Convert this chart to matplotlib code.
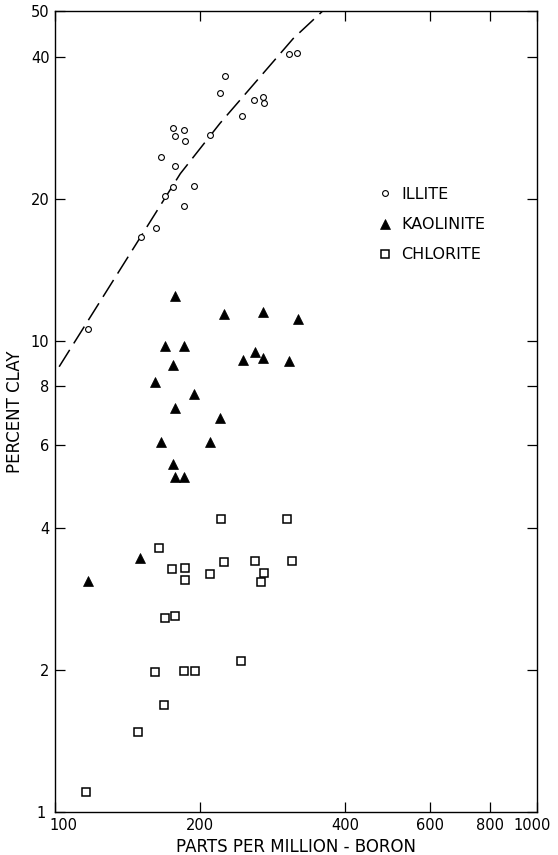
import matplotlib
matplotlib.use("Agg")
import matplotlib.pyplot as plt
from matplotlib.ticker import FixedLocator, FixedFormatter, NullLocator
from matplotlib.transforms import ScaledTranslation

plt.rcParams['font.family'] = ['DejaVu Sans']

# ---- data ----
illite_boron = [306, 318, 225, 220, 259, 270, 272, 244, 176, 185, 177, 186, 210,
                166, 177, 176, 194, 169, 185, 162, 151, 117]
illite_clay = [40.5, 40.8, 36.4, 33.5, 32.4, 32.9, 31.9, 30.0, 28.2, 28.0, 27.1, 26.5, 27.3,
               24.5, 23.4, 21.2, 21.3, 20.3, 19.3, 17.3, 16.6, 10.6]

kaolinite_boron = [177, 224, 270, 319, 169, 185, 260, 270, 245, 306, 176, 161, 194,
                   177, 220, 166, 210, 176, 177, 185, 150, 117]
kaolinite_clay = [12.4, 11.4, 11.5, 11.1, 9.75, 9.75, 9.44, 9.19, 9.09, 9.03, 8.86, 8.15, 7.71,
                  7.20, 6.86, 6.10, 6.10, 5.47, 5.13, 5.13, 3.45, 3.09]

chlorite_boron = [221, 303, 164, 224, 260, 310, 175, 186, 210, 272, 186, 268, 169, 177,
                  243, 161, 185, 195, 168, 149, 116]
chlorite_clay = [4.18, 4.18, 3.63, 3.39, 3.41, 3.40, 3.28, 3.29, 3.19, 3.22, 3.10, 3.07, 2.58, 2.60,
                 2.09, 1.98, 1.99, 1.99, 1.69, 1.48, 1.10]

trend_boron = [102, 113, 155, 182, 220, 312, 363]
trend_clay = [8.8, 10.4, 17.4, 22.6, 28.9, 43.7, 50.5]

x_ticks = [100, 200, 400, 600, 800, 1000]
x_tick_labels = ['100', '200', '400', '600', '800', '1000']
y_ticks = [1, 2, 4, 6, 8, 10, 20, 40, 50]
y_tick_labels = ['1', '2', '4', '6', '8', '10', '20', '40', '50']

series_labels = ['ILLITE', 'KAOLINITE', 'CHLORITE']

# ---- figure ----
W, H = 558, 855
fig = plt.figure(figsize=(W / 100, H / 100), dpi=100)
ax = fig.add_axes([55 / W, 1 - 812 / H, 482 / W, 801 / H])
ax.set_xscale('log')
ax.set_yscale('log')
ax.set_xlim(100, 1000)
ax.set_ylim(1, 50)

ax.plot(trend_boron, trend_clay, color='black', lw=1.1, dashes=(13, 5), zorder=1)

ax.plot(illite_boron, illite_clay, ls='none', marker='o', ms=4.2, mfc='white',
        mec='black', mew=0.8, label=series_labels[0], zorder=3)
ax.plot(kaolinite_boron, kaolinite_clay, ls='none', marker='^', ms=6.5, mfc='black',
        mec='black', mew=0.5, label=series_labels[1], zorder=3)
ax.plot(chlorite_boron, chlorite_clay, ls='none', marker='s', ms=6.0, mfc='white',
        mec='black', mew=1.1, label=series_labels[2], zorder=3)

for s in ax.spines.values():
    s.set_linewidth(1.0)

ax.xaxis.set_major_locator(FixedLocator(x_ticks))
ax.xaxis.set_major_formatter(FixedFormatter(x_tick_labels))
ax.xaxis.set_minor_locator(NullLocator())
ax.yaxis.set_major_locator(FixedLocator(y_ticks))
ax.yaxis.set_major_formatter(FixedFormatter(y_tick_labels))
ax.yaxis.set_minor_locator(NullLocator())

ax.tick_params(which='major', direction='in', length=7, width=0.9,
               top=True, right=True, labelsize=10.5, pad=4)

ax.set_xlabel('PARTS PER MILLION - BORON', fontsize=12, labelpad=4)
ax.set_ylabel('PERCENT CLAY', fontsize=12, labelpad=5)

# shift corner tick labels apart as in the reference
fig.canvas.draw()
xt = ax.xaxis.get_major_ticks()
xt[0].label1.set_transform(xt[0].label1.get_transform() +
                           ScaledTranslation(8 / 100, 0, fig.dpi_scale_trans))
xt[-1].label1.set_transform(xt[-1].label1.get_transform() +
                            ScaledTranslation(-5 / 100, 0, fig.dpi_scale_trans))
yt = ax.yaxis.get_major_ticks()
yt[0].label1.set_transform(yt[0].label1.get_transform() +
                           ScaledTranslation(-4 / 100, 0, fig.dpi_scale_trans))

leg = ax.legend(loc='upper left', frameon=False, fontsize=11.5,
                bbox_to_anchor=(377 / W, 1 - 187 / H), bbox_transform=fig.transFigure,
                borderaxespad=0, borderpad=0, handlelength=1.0, handletextpad=0.5,
                labelspacing=0.95, numpoints=1)

fig.savefig('out.png', dpi=100)
